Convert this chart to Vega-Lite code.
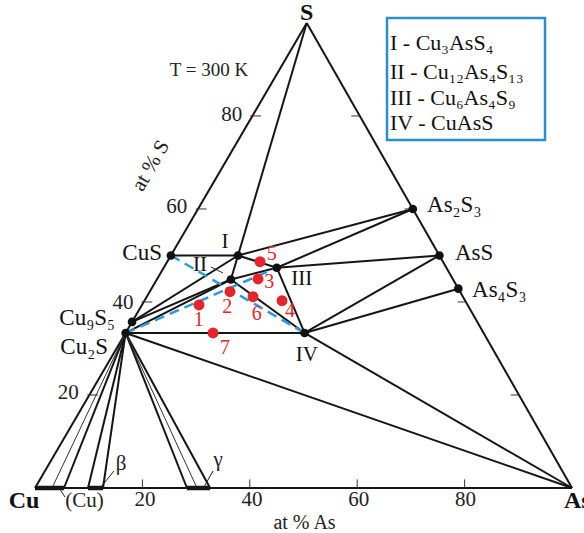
{
  "$schema": "https://vega.github.io/schema/vega-lite/v6.json",
  "width": 584,
  "height": 533,
  "padding": 0,
  "autosize": {"type": "none"},
  "background": "white",
  "config": {"view": {"stroke": null}, "font": "Liberation Serif"},
  "datasets": {
    "ties": [
      {"x": 0, "y": 0, "x2": 100, "y2": 0},
      {"x": 100, "y": 0, "x2": 50.6, "y2": 86.6},
      {"x": 50.6, "y": 86.6, "x2": 0, "y2": 0},
      {"x": 50.6, "y": 86.6, "x2": 37.8, "y2": 43.3},
      {"x": 25.3, "y": 43.3, "x2": 37.8, "y2": 43.3},
      {"x": 37.8, "y": 43.3, "x2": 70.36, "y2": 51.96},
      {"x": 37.8, "y": 43.3, "x2": 45.02, "y2": 41.02},
      {"x": 37.8, "y": 43.3, "x2": 36.47, "y2": 38.82},
      {"x": 36.47, "y": 38.82, "x2": 45.02, "y2": 41.02},
      {"x": 36.47, "y": 38.82, "x2": 50.2, "y2": 28.87},
      {"x": 45.02, "y": 41.02, "x2": 50.2, "y2": 28.87},
      {"x": 45.02, "y": 41.02, "x2": 70.36, "y2": 51.96},
      {"x": 45.02, "y": 41.02, "x2": 75.3, "y2": 43.3},
      {"x": 50.2, "y": 28.87, "x2": 75.3, "y2": 43.3},
      {"x": 50.2, "y": 28.87, "x2": 78.83, "y2": 37.12},
      {"x": 50.2, "y": 28.87, "x2": 100, "y2": 0},
      {"x": 16.87, "y": 28.87, "x2": 100, "y2": 0},
      {"x": 16.87, "y": 28.87, "x2": 50.2, "y2": 28.87},
      {"x": 18.07, "y": 30.93, "x2": 37.8, "y2": 43.3},
      {"x": 18.07, "y": 30.93, "x2": 36.47, "y2": 38.82},
      {"x": 16.87, "y": 28.87, "x2": 36.47, "y2": 38.82},
      {"x": 16.87, "y": 28.87, "x2": 5.4, "y2": 0},
      {"x": 16.87, "y": 28.87, "x2": 9.87, "y2": 0},
      {"x": 16.87, "y": 28.87, "x2": 12.66, "y2": 0},
      {"x": 16.87, "y": 28.87, "x2": 28.3, "y2": 0},
      {"x": 16.87, "y": 28.87, "x2": 32.6, "y2": 0}
    ],
    "thin": [
      {"x": 16.87, "y": 28.87, "x2": 3.17, "y2": 0},
      {"x": 16.87, "y": 28.87, "x2": 30.17, "y2": 0}
    ],
    "bars": [
      {"x": 0, "y": 0, "x2": 5.4, "y2": 0},
      {"x": 9.87, "y": 0, "x2": 12.66, "y2": 0},
      {"x": 28.3, "y": 0, "x2": 32.6, "y2": 0}
    ],
    "dashed": [
      {"x": 25.3, "y": 43.3, "x2": 50.2, "y2": 28.87},
      {"x": 16.87, "y": 28.87, "x2": 45.02, "y2": 41.02}
    ],
    "ticks": [
      {"x": 20, "y": 0, "x2": 20, "y2": 1.6},
      {"x": 40, "y": 0, "x2": 40, "y2": 1.6},
      {"x": 60, "y": 0, "x2": 60, "y2": 1.6},
      {"x": 80, "y": 0, "x2": 80, "y2": 1.6},
      {"x": 9.72, "y": 17.32, "x2": 11.72, "y2": 17.32},
      {"x": 19.84, "y": 34.64, "x2": 21.84, "y2": 34.64},
      {"x": 29.96, "y": 51.96, "x2": 31.96, "y2": 51.96},
      {"x": 40.08, "y": 69.28, "x2": 42.08, "y2": 69.28},
      {"x": 88.6, "y": 17.32, "x2": 90.12, "y2": 17.32},
      {"x": 78.7, "y": 34.64, "x2": 80.24, "y2": 34.64},
      {"x": 68.8, "y": 51.96, "x2": 70.36, "y2": 51.96},
      {"x": 58.9, "y": 69.28, "x2": 60.48, "y2": 69.28}
    ],
    "leaders": [
      {"x": 14.71, "y": 3.17, "x2": 12.29, "y2": 0.19},
      {"x": 33.15, "y": 3.17, "x2": 31.47, "y2": 0.19},
      {"x": 4.47, "y": 0, "x2": 5.59, "y2": -1.68},
      {"x": 32.77, "y": 41.15, "x2": 35.01, "y2": 40.04}
    ],
    "box": [{"x": 65.55, "y": 87.52, "x2": 94.97, "y2": 64.8}],
    "nodes": [
      {"name": "CuS", "x": 25.3, "y": 43.3},
      {"name": "Cu9S5", "x": 18.07, "y": 30.93},
      {"name": "Cu2S", "x": 16.87, "y": 28.87},
      {"name": "As2S3", "x": 70.36, "y": 51.96},
      {"name": "AsS", "x": 75.3, "y": 43.3},
      {"name": "As4S3", "x": 78.83, "y": 37.12},
      {"name": "I", "x": 37.8, "y": 43.3},
      {"name": "II", "x": 36.47, "y": 38.82},
      {"name": "III", "x": 45.02, "y": 41.02},
      {"name": "IV", "x": 50.2, "y": 28.87}
    ],
    "samples": [
      {"id": "1", "x": 30.54, "y": 34.08},
      {"id": "2", "x": 36.31, "y": 36.55},
      {"id": "3", "x": 41.53, "y": 38.92},
      {"id": "4", "x": 46.0, "y": 34.88},
      {"id": "5", "x": 41.9, "y": 42.14},
      {"id": "6", "x": 40.6, "y": 35.62},
      {"id": "7", "x": 33.15, "y": 28.87}
    ],
    "sampleLabels": [
      {"t": "1", "x": 30.48, "y": 31.28},
      {"t": "2", "x": 35.81, "y": 33.71},
      {"t": "3", "x": 43.63, "y": 38.42},
      {"t": "4", "x": 47.49, "y": 32.96},
      {"t": "5", "x": 44.08, "y": 43.52},
      {"t": "6", "x": 41.28, "y": 32.35},
      {"t": "7", "x": 35.38, "y": 26.01}
    ],
    "labLeft": [
      {"t": "As₂S₃", "x": 73.0, "y": 52.7},
      {"t": "AsS", "x": 78.2, "y": 43.7},
      {"t": "As₄S₃", "x": 81.38, "y": 36.87}
    ],
    "labRight": [
      {"t": "CuS", "x": 23.65, "y": 43.7},
      {"t": "Cu₉S₅", "x": 14.9, "y": 31.66},
      {"t": "Cu₂S", "x": 13.59, "y": 26.26}
    ],
    "roman": [
      {"t": "I", "x": 35.38, "y": 45.87},
      {"t": "II", "x": 30.73, "y": 41.53},
      {"t": "III", "x": 49.66, "y": 38.92},
      {"t": "IV", "x": 50.6, "y": 24.77}
    ],
    "plain": [
      {"t": "20", "x": 20.48, "y": -2.23},
      {"t": "40", "x": 40.41, "y": -2.23},
      {"t": "60", "x": 60.28, "y": -2.23},
      {"t": "80", "x": 80.17, "y": -2.23},
      {"t": "80", "x": 36.63, "y": 69.46},
      {"t": "60", "x": 26.39, "y": 52.38},
      {"t": "40", "x": 16.39, "y": 34.45},
      {"t": "20", "x": 6.2, "y": 17.64},
      {"t": "(Cu)", "x": 9.22, "y": -2.42},
      {"t": "β", "x": 16.01, "y": 4.47},
      {"t": "γ", "x": 34.08, "y": 5.21}
    ],
    "axisTitle": [{"t": "at %  As", "x": 50.19, "y": -6.6}],
    "temp": [{"t": "T = 300 K", "x": 32.4, "y": 77.84}],
    "rot": [{"t": "at %  S", "x": 21.6, "y": 60.0}],
    "boldC": [
      {"t": "S", "x": 50.57, "y": 88.45},
      {"t": "Cu", "x": -2.05, "y": -2.42}
    ],
    "boldL": [{"t": "As", "x": 98.5, "y": -2.42}],
    "legend": [
      {"t": "I - Cu₃AsS₄", "x": 66.1, "y": 82.87},
      {"t": "II - Cu₁₂As₄S₁₃", "x": 66.1, "y": 77.47},
      {"t": "III - Cu₆As₄S₉", "x": 66.1, "y": 72.63},
      {"t": "IV - CuAsS", "x": 66.1, "y": 67.97}
    ]
  },
  "layer": [
    {
      "data": {"name": "ties"},
      "mark": {"type": "rule", "color": "#151515", "strokeWidth": 2},
      "encoding": {
        "x": {"field": "x", "type": "quantitative", "scale": {"domain": [-6.518, 102.23], "nice": false, "zero": false}, "axis": null},
        "y": {"field": "y", "type": "quantitative", "scale": {"domain": [-8.38, 90.875], "nice": false, "zero": false}, "axis": null},
        "x2": {"field": "x2"},
        "y2": {"field": "y2"}
      }
    },
    {
      "data": {"name": "thin"},
      "mark": {"type": "rule", "color": "#333333", "strokeWidth": 1},
      "encoding": {
        "x": {"field": "x", "type": "quantitative"},
        "y": {"field": "y", "type": "quantitative"},
        "x2": {"field": "x2"},
        "y2": {"field": "y2"}
      }
    },
    {
      "data": {"name": "bars"},
      "mark": {"type": "rule", "color": "#151515", "strokeWidth": 4.5},
      "encoding": {
        "x": {"field": "x", "type": "quantitative"},
        "y": {"field": "y", "type": "quantitative"},
        "x2": {"field": "x2"},
        "y2": {"field": "y2"}
      }
    },
    {
      "data": {"name": "ticks"},
      "mark": {"type": "rule", "color": "#333333", "strokeWidth": 1},
      "encoding": {
        "x": {"field": "x", "type": "quantitative"},
        "y": {"field": "y", "type": "quantitative"},
        "x2": {"field": "x2"},
        "y2": {"field": "y2"}
      }
    },
    {
      "data": {"name": "leaders"},
      "mark": {"type": "rule", "color": "#222222", "strokeWidth": 1},
      "encoding": {
        "x": {"field": "x", "type": "quantitative"},
        "y": {"field": "y", "type": "quantitative"},
        "x2": {"field": "x2"},
        "y2": {"field": "y2"}
      }
    },
    {
      "data": {"name": "dashed"},
      "mark": {"type": "rule", "color": "#2b9bd6", "strokeWidth": 2.5, "strokeDash": [10, 6]},
      "encoding": {
        "x": {"field": "x", "type": "quantitative"},
        "y": {"field": "y", "type": "quantitative"},
        "x2": {"field": "x2"},
        "y2": {"field": "y2"}
      }
    },
    {
      "data": {"name": "box"},
      "mark": {"type": "rect", "fill": null, "stroke": "#2a8fcf", "strokeWidth": 2.5},
      "encoding": {
        "x": {"field": "x", "type": "quantitative"},
        "y": {"field": "y", "type": "quantitative"},
        "x2": {"field": "x2"},
        "y2": {"field": "y2"}
      }
    },
    {
      "data": {"name": "nodes"},
      "mark": {"type": "point", "filled": true, "color": "#111111", "opacity": 1, "size": 75},
      "encoding": {
        "x": {"field": "x", "type": "quantitative"},
        "y": {"field": "y", "type": "quantitative"}
      }
    },
    {
      "data": {"name": "samples"},
      "mark": {"type": "point", "filled": true, "color": "#e3262b", "opacity": 1, "size": 120},
      "encoding": {
        "x": {"field": "x", "type": "quantitative"},
        "y": {"field": "y", "type": "quantitative"}
      }
    },
    {
      "data": {"name": "sampleLabels"},
      "mark": {"type": "text", "color": "#e3262b", "fontSize": 20, "align": "center", "baseline": "middle", "font": "Liberation Serif"},
      "encoding": {
        "x": {"field": "x", "type": "quantitative"},
        "y": {"field": "y", "type": "quantitative"},
        "text": {"field": "t"}
      }
    },
    {
      "data": {"name": "labLeft"},
      "mark": {"type": "text", "color": "#111111", "fontSize": 23, "align": "left", "baseline": "middle", "font": "Liberation Serif"},
      "encoding": {
        "x": {"field": "x", "type": "quantitative"},
        "y": {"field": "y", "type": "quantitative"},
        "text": {"field": "t"}
      }
    },
    {
      "data": {"name": "labRight"},
      "mark": {"type": "text", "color": "#111111", "fontSize": 23, "align": "right", "baseline": "middle", "font": "Liberation Serif"},
      "encoding": {
        "x": {"field": "x", "type": "quantitative"},
        "y": {"field": "y", "type": "quantitative"},
        "text": {"field": "t"}
      }
    },
    {
      "data": {"name": "roman"},
      "mark": {"type": "text", "color": "#111111", "fontSize": 21, "align": "center", "baseline": "middle", "font": "Liberation Serif"},
      "encoding": {
        "x": {"field": "x", "type": "quantitative"},
        "y": {"field": "y", "type": "quantitative"},
        "text": {"field": "t"}
      }
    },
    {
      "data": {"name": "plain"},
      "mark": {"type": "text", "color": "#222222", "fontSize": 21, "align": "center", "baseline": "middle", "font": "Liberation Serif"},
      "encoding": {
        "x": {"field": "x", "type": "quantitative"},
        "y": {"field": "y", "type": "quantitative"},
        "text": {"field": "t"}
      }
    },
    {
      "data": {"name": "axisTitle"},
      "mark": {"type": "text", "color": "#222222", "fontSize": 20, "align": "center", "baseline": "middle", "font": "Liberation Serif"},
      "encoding": {
        "x": {"field": "x", "type": "quantitative"},
        "y": {"field": "y", "type": "quantitative"},
        "text": {"field": "t"}
      }
    },
    {
      "data": {"name": "temp"},
      "mark": {"type": "text", "color": "#222222", "fontSize": 19, "align": "center", "baseline": "middle", "font": "Liberation Serif"},
      "encoding": {
        "x": {"field": "x", "type": "quantitative"},
        "y": {"field": "y", "type": "quantitative"},
        "text": {"field": "t"}
      }
    },
    {
      "data": {"name": "rot"},
      "mark": {"type": "text", "color": "#222222", "fontSize": 21, "align": "center", "baseline": "middle", "angle": -60, "font": "Liberation Serif"},
      "encoding": {
        "x": {"field": "x", "type": "quantitative"},
        "y": {"field": "y", "type": "quantitative"},
        "text": {"field": "t"}
      }
    },
    {
      "data": {"name": "boldC"},
      "mark": {"type": "text", "color": "#111111", "fontSize": 24, "fontWeight": "bold", "align": "center", "baseline": "middle", "font": "Liberation Serif"},
      "encoding": {
        "x": {"field": "x", "type": "quantitative"},
        "y": {"field": "y", "type": "quantitative"},
        "text": {"field": "t"}
      }
    },
    {
      "data": {"name": "boldL"},
      "mark": {"type": "text", "color": "#111111", "fontSize": 24, "fontWeight": "bold", "align": "left", "baseline": "middle", "font": "Liberation Serif"},
      "encoding": {
        "x": {"field": "x", "type": "quantitative"},
        "y": {"field": "y", "type": "quantitative"},
        "text": {"field": "t"}
      }
    },
    {
      "data": {"name": "legend"},
      "mark": {"type": "text", "color": "#111111", "fontSize": 22, "align": "left", "baseline": "middle", "font": "Liberation Serif"},
      "encoding": {
        "x": {"field": "x", "type": "quantitative"},
        "y": {"field": "y", "type": "quantitative"},
        "text": {"field": "t"}
      }
    }
  ]
}
